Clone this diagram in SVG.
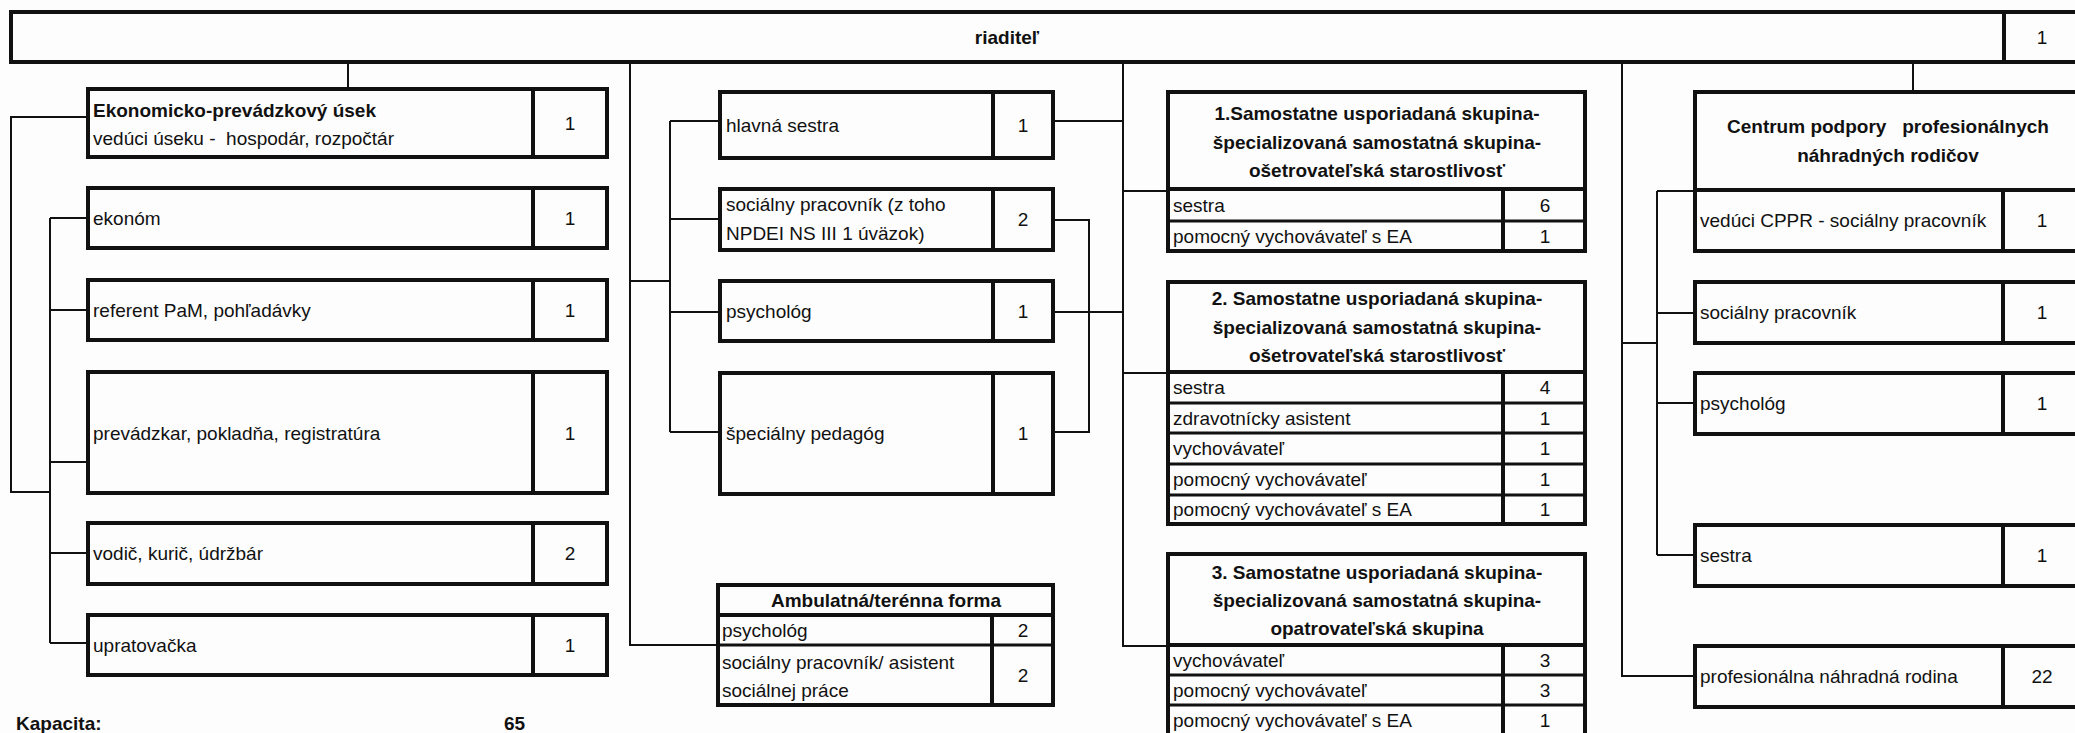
<svg xmlns="http://www.w3.org/2000/svg" width="2075" height="733" viewBox="0 0 2075 733">
<style>
text{font-family:"Liberation Sans",Arial,sans-serif;font-size:19px;fill:#111}
.b{font-weight:bold}
.c{text-anchor:middle}
.pre{white-space:pre}
.box{fill:none;stroke:#111;stroke-width:4}
.div{stroke:#111;stroke-width:4}
.row{stroke:#111;stroke-width:3}
.conn{fill:none;stroke:#111;stroke-width:2}
</style>
<rect width="2075" height="733" fill="#fdfdfd"/>
<g id="connectors">
<path class="conn" d="M348,62V89"/>
<path class="conn" d="M88,117H11V492H50"/>
<path class="conn" d="M50,218V643M50,218H88M50,310H88M50,462H88M50,553H88M50,643H88"/>
<path class="conn" d="M630,62V645H718M630,281H670"/>
<path class="conn" d="M670,121V432M670,121H720M670,219H720M670,312H720M670,432H720"/>
<path class="conn" d="M1053,121H1123M1053,312H1123M1053,220H1089V432H1053"/>
<path class="conn" d="M1123,62V646H1168M1123,191H1168M1123,373H1168"/>
<path class="conn" d="M1913,62V92"/>
<path class="conn" d="M1622,62V676H1695M1622,343H1657"/>
<path class="conn" d="M1657,191V555M1657,191H1695M1657,313H1695M1657,403H1695M1657,555H1695"/>
</g>
<g id="riaditel">
<rect class="box" x="11" y="12" width="2070" height="50"/>
<line class="div" x1="2004" y1="12" x2="2004" y2="62"/>
<text class="b c" x="1007" y="44">riaditeľ</text>
<text class="c" x="2042" y="44">1</text>
</g>
<g id="ekonomicko">
<rect class="box" x="88" y="89" width="519" height="68"/>
<line class="div" x1="533" y1="89" x2="533" y2="157"/>
<text class="b" x="93" y="117">Ekonomicko-prevádzkový úsek</text>
<text class="pre" x="93" y="145">vedúci úseku -  hospodár, rozpočtár</text>
<text class="c" x="570" y="130">1</text>
</g>
<g id="ekonom">
<rect class="box" x="88" y="188" width="519" height="60"/>
<line class="div" x1="533" y1="188" x2="533" y2="248"/>
<text x="93" y="225">ekonóm</text>
<text class="c" x="570" y="225">1</text>
</g>
<g id="referent">
<rect class="box" x="88" y="280" width="519" height="60"/>
<line class="div" x1="533" y1="280" x2="533" y2="340"/>
<text x="93" y="317">referent PaM, pohľadávky</text>
<text class="c" x="570" y="317">1</text>
</g>
<g id="prevadzkar">
<rect class="box" x="88" y="372" width="519" height="121"/>
<line class="div" x1="533" y1="372" x2="533" y2="493"/>
<text x="93" y="440">prevádzkar, pokladňa, registratúra</text>
<text class="c" x="570" y="440">1</text>
</g>
<g id="vodic">
<rect class="box" x="88" y="523" width="519" height="61"/>
<line class="div" x1="533" y1="523" x2="533" y2="584"/>
<text x="93" y="560">vodič, kurič, údržbár</text>
<text class="c" x="570" y="560">2</text>
</g>
<g id="upratovacka">
<rect class="box" x="88" y="615" width="519" height="60"/>
<line class="div" x1="533" y1="615" x2="533" y2="675"/>
<text x="93" y="652">upratovačka</text>
<text class="c" x="570" y="652">1</text>
</g>
<g id="kapacita">
<text class="b" x="16" y="730">Kapacita:</text>
<text class="b" x="504" y="730">65</text>
</g>
<g id="hlavna-sestra">
<rect class="box" x="720" y="92" width="333" height="66"/>
<line class="div" x1="993" y1="92" x2="993" y2="158"/>
<text x="726" y="132">hlavná sestra</text>
<text class="c" x="1023" y="132">1</text>
</g>
<g id="socialny-pracovnik">
<rect class="box" x="720" y="189" width="333" height="61"/>
<line class="div" x1="993" y1="189" x2="993" y2="250"/>
<text x="726" y="211">sociálny pracovník (z toho</text>
<text x="726" y="240">NPDEI NS III 1 úväzok)</text>
<text class="c" x="1023" y="226">2</text>
</g>
<g id="psycholog">
<rect class="box" x="720" y="281" width="333" height="60"/>
<line class="div" x1="993" y1="281" x2="993" y2="341"/>
<text x="726" y="318">psychológ</text>
<text class="c" x="1023" y="318">1</text>
</g>
<g id="specialny-pedagog">
<rect class="box" x="720" y="373" width="333" height="121"/>
<line class="div" x1="993" y1="373" x2="993" y2="494"/>
<text x="726" y="440">špeciálny pedagóg</text>
<text class="c" x="1023" y="440">1</text>
</g>
<g id="ambulatna">
<rect class="box" x="718" y="585" width="335" height="120"/>
<line class="div" x1="718" y1="615" x2="1053" y2="615"/>
<line class="row" x1="718" y1="645" x2="1053" y2="645"/>
<line class="div" x1="992" y1="615" x2="992" y2="705"/>
<text class="b c" x="886" y="607">Ambulatná/terénna forma</text>
<text x="722" y="637">psychológ</text>
<text class="c" x="1023" y="637">2</text>
<text x="722" y="669">sociálny pracovník/ asistent</text>
<text x="722" y="697">sociálnej práce</text>
<text class="c" x="1023" y="682">2</text>
</g>
<g id="skupina1">
<rect class="box" x="1168" y="92" width="417" height="159"/>
<line class="div" x1="1168" y1="189" x2="1585" y2="189"/>
<line class="row" x1="1168" y1="221" x2="1585" y2="221"/>
<line class="div" x1="1503" y1="189" x2="1503" y2="251"/>
<text class="b c" x="1377" y="120">1.Samostatne usporiadaná skupina-</text>
<text class="b c" x="1377" y="149">špecializovaná samostatná skupina-</text>
<text class="b c" x="1377" y="177">ošetrovateľská starostlivosť</text>
<text x="1173" y="212">sestra</text>
<text class="c" x="1545" y="212">6</text>
<text x="1173" y="243">pomocný vychovávateľ s EA</text>
<text class="c" x="1545" y="243">1</text>
</g>
<g id="skupina2">
<rect class="box" x="1168" y="282" width="417" height="242"/>
<line class="div" x1="1168" y1="372" x2="1585" y2="372"/>
<line class="row" x1="1168" y1="403" x2="1585" y2="403"/>
<line class="row" x1="1168" y1="433" x2="1585" y2="433"/>
<line class="row" x1="1168" y1="464" x2="1585" y2="464"/>
<line class="row" x1="1168" y1="495" x2="1585" y2="495"/>
<line class="div" x1="1503" y1="372" x2="1503" y2="524"/>
<text class="b c" x="1377" y="305">2. Samostatne usporiadaná skupina-</text>
<text class="b c" x="1377" y="334">špecializovaná samostatná skupina-</text>
<text class="b c" x="1377" y="362">ošetrovateľská starostlivosť</text>
<text x="1173" y="394">sestra</text>
<text class="c" x="1545" y="394">4</text>
<text x="1173" y="425">zdravotnícky asistent</text>
<text class="c" x="1545" y="425">1</text>
<text x="1173" y="455">vychovávateľ</text>
<text class="c" x="1545" y="455">1</text>
<text x="1173" y="486">pomocný vychovávateľ</text>
<text class="c" x="1545" y="486">1</text>
<text x="1173" y="516">pomocný vychovávateľ s EA</text>
<text class="c" x="1545" y="516">1</text>
</g>
<g id="skupina3">
<rect class="box" x="1168" y="554" width="417" height="184"/>
<line class="div" x1="1168" y1="645" x2="1585" y2="645"/>
<line class="row" x1="1168" y1="675" x2="1585" y2="675"/>
<line class="row" x1="1168" y1="705" x2="1585" y2="705"/>
<line class="div" x1="1503" y1="645" x2="1503" y2="738"/>
<text class="b c" x="1377" y="579">3. Samostatne usporiadaná skupina-</text>
<text class="b c" x="1377" y="607">špecializovaná samostatná skupina-</text>
<text class="b c" x="1377" y="635">opatrovateľská skupina</text>
<text x="1173" y="667">vychovávateľ</text>
<text class="c" x="1545" y="667">3</text>
<text x="1173" y="697">pomocný vychovávateľ</text>
<text class="c" x="1545" y="697">3</text>
<text x="1173" y="727">pomocný vychovávateľ s EA</text>
<text class="c" x="1545" y="727">1</text>
</g>
<g id="centrum">
<rect class="box" x="1695" y="92" width="386" height="159"/>
<line class="div" x1="1695" y1="190" x2="2081" y2="190"/>
<line class="div" x1="2003" y1="190" x2="2003" y2="251"/>
<text class="b c pre" x="1888" y="133">Centrum podpory   profesionálnych</text>
<text class="b c" x="1888" y="162">náhradných rodičov</text>
<text x="1700" y="227">vedúci CPPR - sociálny pracovník</text>
<text class="c" x="2042" y="227">1</text>
</g>
<g id="cppr-socialny">
<rect class="box" x="1695" y="282" width="386" height="61"/>
<line class="div" x1="2003" y1="282" x2="2003" y2="343"/>
<text x="1700" y="319">sociálny pracovník</text>
<text class="c" x="2042" y="319">1</text>
</g>
<g id="cppr-psycholog">
<rect class="box" x="1695" y="373" width="386" height="61"/>
<line class="div" x1="2003" y1="373" x2="2003" y2="434"/>
<text x="1700" y="410">psychológ</text>
<text class="c" x="2042" y="410">1</text>
</g>
<g id="cppr-sestra">
<rect class="box" x="1695" y="525" width="386" height="61"/>
<line class="div" x1="2003" y1="525" x2="2003" y2="586"/>
<text x="1700" y="562">sestra</text>
<text class="c" x="2042" y="562">1</text>
</g>
<g id="pnr">
<rect class="box" x="1695" y="646" width="386" height="61"/>
<line class="div" x1="2003" y1="646" x2="2003" y2="707"/>
<text x="1700" y="683">profesionálna náhradná rodina</text>
<text class="c" x="2042" y="683">22</text>
</g>
</svg>
